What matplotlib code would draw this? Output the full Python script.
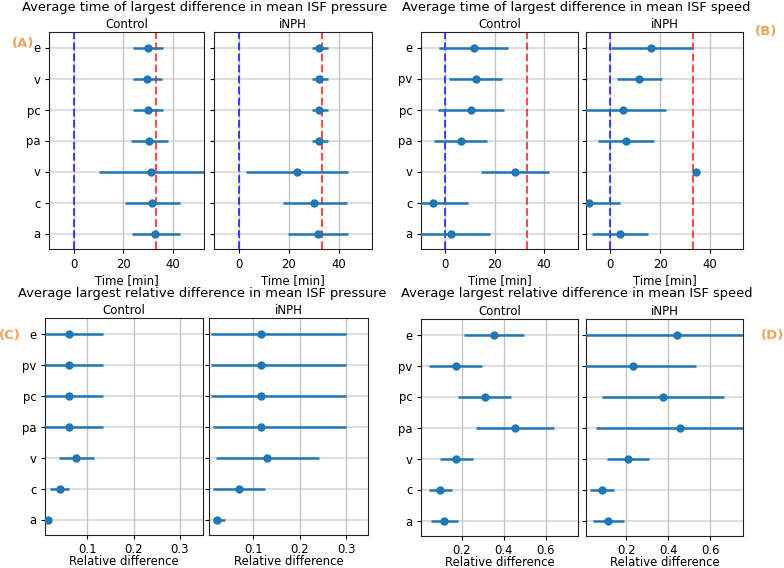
#!/usr/bin/env python3

import matplotlib.pyplot as plt

W, H = 784, 568

# categories listed top to bottom
cats_a = ['e', 'v', 'pc', 'pa', 'v', 'c', 'a']
cats_b = ['e', 'pv', 'pc', 'pa', 'v', 'c', 'a']

# (A) time of largest difference in ISF pressure [min]
a_ctrl_mean = [29.8, 29.7, 29.8, 30.5, 31.3, 31.5, 32.8]
a_ctrl_lo = [23.9, 23.9, 23.9, 23.2, 10.2, 20.5, 23.5]
a_ctrl_hi = [36.0, 35.7, 36.0, 37.9, 53.0, 43.0, 43.0]
a_inph_mean = [32.2, 32.2, 32.2, 32.2, 23.3, 30.2, 31.6]
a_inph_lo = [29.3, 29.3, 29.3, 29.3, 2.8, 17.8, 19.5]
a_inph_hi = [35.6, 35.6, 35.6, 35.6, 43.7, 43.1, 43.7]

# (B) time of largest difference in ISF speed [min]
b_ctrl_mean = [11.6, 12.4, 10.4, 6.3, 28.1, -4.8, 2.2]
b_ctrl_lo = [-2.4, 1.7, -2.8, -4.4, 14.5, -12.0, -13.0]
b_ctrl_hi = [25.6, 23.0, 23.7, 16.8, 41.9, 9.4, 18.0]
b_inph_mean = [16.5, 11.7, 5.1, 6.4, 34.3, -8.4, 3.9]
b_inph_lo = [0.3, 2.9, -12.0, -4.9, 34.3, -12.0, -7.2]
b_inph_hi = [32.8, 20.7, 22.3, 17.7, 34.3, 4.0, 15.1]

# (C) largest relative difference in ISF pressure
c_ctrl_mean = [0.061, 0.061, 0.061, 0.061, 0.0755, 0.0403, 0.0144]
c_ctrl_lo = [0.0086, 0.0086, 0.0086, 0.0086, 0.0388, 0.0194, 0.012]
c_ctrl_hi = [0.1345, 0.1345, 0.1345, 0.1345, 0.1137, 0.0604, 0.017]
c_inph_mean = [0.1158, 0.1165, 0.1158, 0.1158, 0.130, 0.0692, 0.0226]
c_inph_lo = [0.0097, 0.0097, 0.0097, 0.0125, 0.0204, 0.0125, 0.0125]
c_inph_hi = [0.3007, 0.3007, 0.3007, 0.3007, 0.2405, 0.125, 0.0384]

# (D) largest relative difference in ISF speed
d_ctrl_mean = [0.354, 0.170, 0.310, 0.452, 0.173, 0.095, 0.117]
d_ctrl_lo = [0.211, 0.041, 0.184, 0.268, 0.094, 0.041, 0.052]
d_ctrl_hi = [0.495, 0.298, 0.435, 0.638, 0.252, 0.152, 0.183]
d_inph_mean = [0.441, 0.231, 0.373, 0.454, 0.206, 0.082, 0.114]
d_inph_lo = [-0.05, -0.05, 0.085, 0.057, 0.106, 0.028, 0.043]
d_inph_hi = [0.80, 0.534, 0.666, 0.80, 0.307, 0.141, 0.187]

t_end = 33.33  # end of the simulated stimulus, red line

plt.rcParams.update({'font.size': 8, 'font.family': 'DejaVu Sans'})
fig = plt.figure(figsize=(W / 100, H / 100), dpi=100)


def px_axes(x0, x1, y0, y1):
    return fig.add_axes([x0 / W, 1 - y1 / H, (x1 - x0) / W, (y1 - y0) / H])


def draw(ax, cats, mean, lo, hi, xlim, xticks, xlabel, title, show_y, vlines,
         lpad=2, tpad=3.5):
    y = list(range(len(cats)))
    for yy in y:
        ax.axhline(yy, color='#dedede', lw=1.5, zorder=0)
    for xt in xticks:
        ax.axvline(xt, color='#c4c4c4', lw=1.0, zorder=0)
    if vlines:
        ax.axvline(0, color='blue', ls='--', lw=1.5, alpha=0.7, zorder=1)
        ax.axvline(t_end, color='red', ls='--', lw=1.5, alpha=0.7, zorder=1)
    xerr = [[m - l for m, l in zip(mean, lo)], [h - m for m, h in zip(mean, hi)]]
    ax.errorbar(mean, y, xerr=xerr, fmt='o', color='#1f77b4', ms=5,
                elinewidth=1.8, capsize=0, zorder=3)
    ax.set_xlim(*xlim)
    ax.set_ylim(len(cats) - 0.5, -0.5)
    ax.set_xticks(xticks)
    ax.set_yticks(y)
    if show_y:
        ax.set_yticklabels(cats)
    else:
        ax.set_yticklabels([])
    ax.tick_params(labelsize=8.4, pad=3, length=3)
    ax.tick_params(axis='x', pad=tpad)
    ax.set_xlabel(xlabel, fontsize=8.4, labelpad=lpad)
    ax.set_title(title, fontsize=8.5, pad=3)
    for s in ax.spines.values():
        s.set_color('#222222')


# (A)
ax = px_axes(49, 204, 32, 249)
draw(ax, cats_a, a_ctrl_mean, a_ctrl_lo, a_ctrl_hi, (-10, 52.5), [0, 20, 40],
     'Time [min]', 'Control', True, True)
ax = px_axes(214, 372, 32, 249)
draw(ax, cats_a, a_inph_mean, a_inph_lo, a_inph_hi, (-10, 53.3), [0, 20, 40],
     'Time [min]', 'iNPH', False, True)

# (B)
ax = px_axes(421, 578, 32, 249)
draw(ax, cats_b, b_ctrl_mean, b_ctrl_lo, b_ctrl_hi, (-9.8, 53.8), [0, 20, 40],
     'Time [min]', 'Control', True, True)
ax = px_axes(586, 743, 32, 249)
draw(ax, cats_b, b_inph_mean, b_inph_lo, b_inph_hi, (-9.7, 53.3), [0, 20, 40],
     'Time [min]', 'iNPH', False, True)

# (C)
ax = px_axes(45, 203, 318, 535)
draw(ax, cats_b, c_ctrl_mean, c_ctrl_lo, c_ctrl_hi, (0.0086, 0.35), [0.1, 0.2, 0.3],
     'Relative difference', 'Control', True, False, lpad=-0.5, tpad=2.5)
ax = px_axes(209, 368, 318, 535)
draw(ax, cats_b, c_inph_mean, c_inph_lo, c_inph_hi, (0.0047, 0.347), [0.1, 0.2, 0.3],
     'Relative difference', 'iNPH', False, False, lpad=-0.5, tpad=2.5)

# (D)
ax = px_axes(421, 578, 319, 536)
draw(ax, cats_b, d_ctrl_mean, d_ctrl_lo, d_ctrl_hi, (0.005, 0.755), [0.2, 0.4, 0.6],
     'Relative difference', 'Control', True, False, lpad=-0.5, tpad=2.5)
ax = px_axes(586, 743, 319, 536)
draw(ax, cats_b, d_inph_mean, d_inph_lo, d_inph_hi, (0.008, 0.756), [0.2, 0.4, 0.6],
     'Relative difference', 'iNPH', False, False, lpad=-0.5, tpad=2.5)

# figure titles
fig.text(205 / W, 1 - 8 / H, 'Average time of largest difference in mean ISF pressure',
         ha='center', va='center', fontsize=9.35)
fig.text(576 / W, 1 - 8 / H, 'Average time of largest difference in mean ISF speed',
         ha='center', va='center', fontsize=9.35)
fig.text(202 / W, 1 - 293 / H, 'Average largest relative difference in mean ISF pressure',
         ha='center', va='center', fontsize=9.35)
fig.text(577 / W, 1 - 293 / H, 'Average largest relative difference in mean ISF speed',
         ha='center', va='center', fontsize=9.35)

# panel letters
orange = '#f5a05a'
fig.text(23 / W, 1 - 43 / H, '(A)', color=orange, fontweight='bold', fontsize=9.5,
         ha='center', va='center')
fig.text(766 / W, 1 - 32 / H, '(B)', color=orange, fontweight='bold', fontsize=9.5,
         ha='center', va='center')
fig.text(10 / W, 1 - 335 / H, '(C)', color=orange, fontweight='bold', fontsize=9.5,
         ha='center', va='center')
fig.text(773 / W, 1 - 335 / H, '(D)', color=orange, fontweight='bold', fontsize=9.5,
         ha='center', va='center')

plt.savefig('out.png', dpi=100)
